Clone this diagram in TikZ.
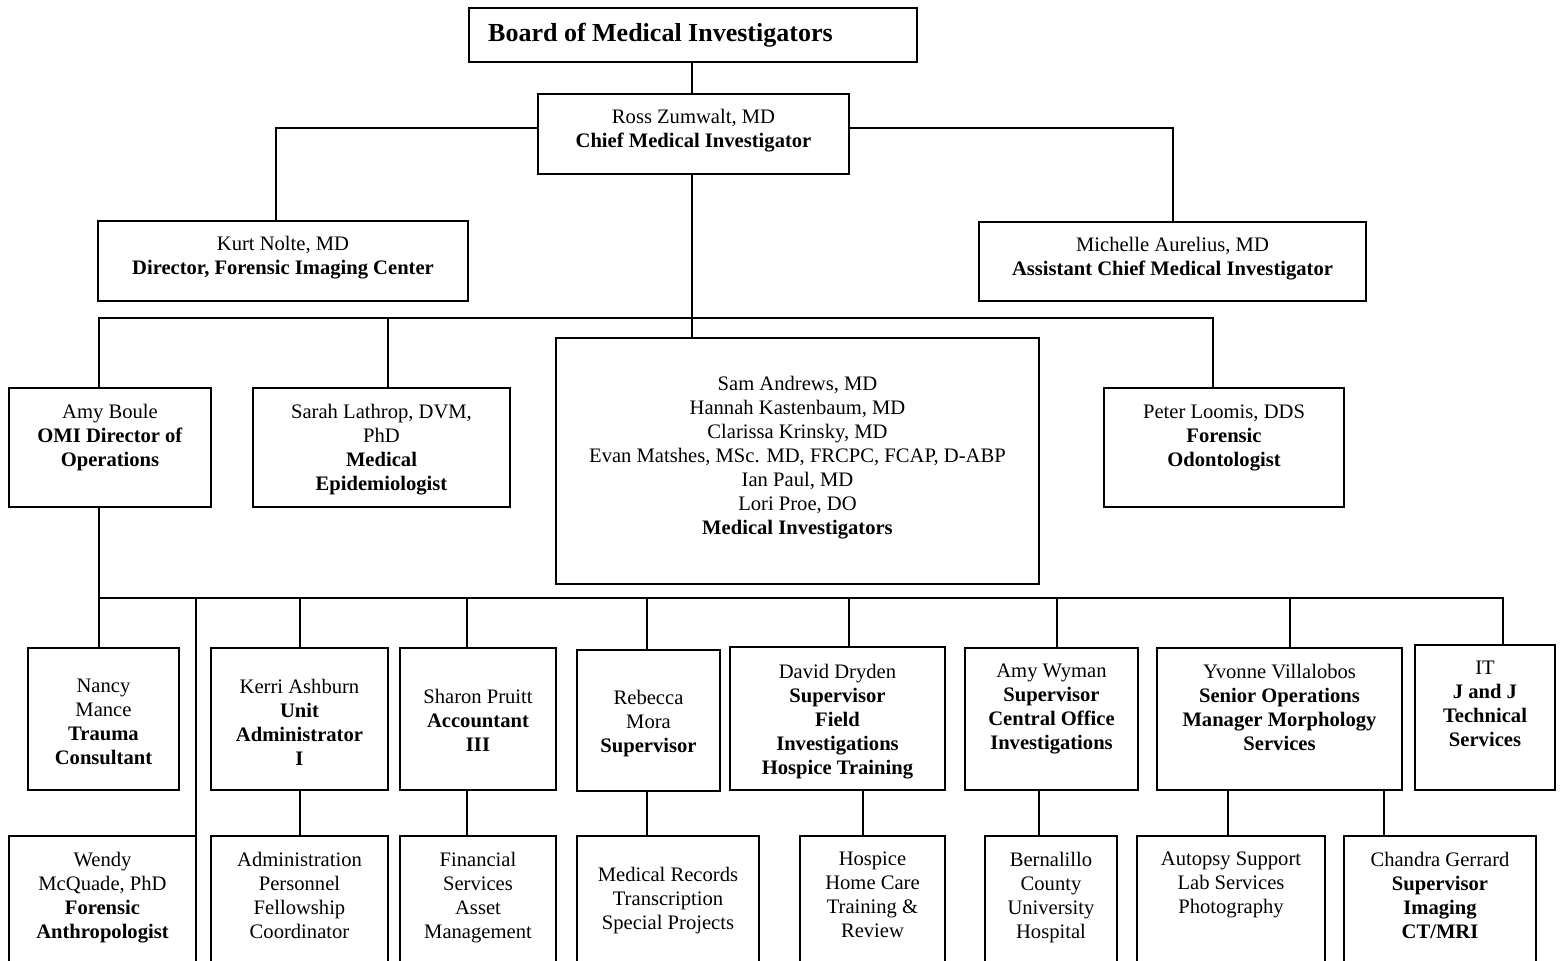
\documentclass[tikz,border=0pt]{standalone}
\usepackage{fontspec}
\setmainfont{Liberation Serif}
\tikzset{
  obox/.style={draw, line width=1.5pt, inner sep=0pt, outer sep=0pt},
  otxt/.style={align=center, inner sep=0pt, font=\fontsize{20.6}{24}\selectfont, anchor=north},
  link/.style={line width=1.5pt},
}
% name, x1, y1, x2, y2, centre of first text line, text
\newcommand\OrgBox[7]{%
  \node[obox, minimum width={#4-#2}, minimum height={#5-#3}] (#1) at ({(#2+#4)/2},{(#3+#5)/2}) {};
  \node[otxt] (#1t) at ({(#2+#4)/2},{#6-7.5}) {#7};}
\begin{document}
\begin{tikzpicture}[x=1pt,y=-1pt]
\useasboundingbox (0,0) rectangle (1561,961);
\clip (0,0) rectangle (1561,961);

% Board
\node[obox, minimum width=448, minimum height=54] (board) at (693,35) {};
\node[anchor=west, inner sep=0pt, font=\fontsize{26}{30}\selectfont\bfseries] (boardt) at (488,35) {Board of Medical Investigators};

\OrgBox{chief}{538}{94}{849}{174}{117}{Ross Zumwalt, MD\\\textbf{Chief Medical Investigator}}
\OrgBox{kurt}{98}{221}{468}{301}{244}{Kurt Nolte, MD\\\textbf{Director, Forensic Imaging Center}}
\OrgBox{michelle}{979}{222}{1366}{301}{245}{Michelle Aurelius, MD\\\textbf{Assistant Chief Medical Investigator}}

\OrgBox{amy}{9}{388}{211}{507}{412}{Amy Boule\\\textbf{OMI Director of}\\\textbf{Operations}}
\OrgBox{sarah}{253}{388}{510}{507}{412}{Sarah Lathrop, DVM,\\PhD\\\textbf{Medical}\\\textbf{Epidemiologist}}
\OrgBox{mi}{556}{338}{1039}{584}{384}{Sam Andrews, MD\\Hannah Kastenbaum, MD\\Clarissa Krinsky, MD\\Evan Matshes, MSc. MD, FRCPC, FCAP, D-ABP\\Ian Paul, MD\\Lori Proe, DO\\\textbf{Medical Investigators}}
\OrgBox{peter}{1104}{388}{1344}{507}{412}{Peter Loomis, DDS\\\textbf{Forensic}\\\textbf{Odontologist}}

\OrgBox{nancy}{28}{648}{179}{790}{686}{Nancy\\Mance\\\textbf{Trauma}\\\textbf{Consultant}}
\OrgBox{kerri}{211}{648}{388}{790}{686}{Kerri Ashburn\\\textbf{Unit}\\\textbf{Administrator}\\\textbf{I}}
\OrgBox{sharon}{400}{648}{556}{790}{696}{Sharon Pruitt\\\textbf{Accountant}\\\textbf{III}}
\OrgBox{rebecca}{577}{650}{720}{791}{697}{Rebecca\\Mora\\\textbf{Supervisor}}
\OrgBox{david}{730}{647}{945}{790}{671}{David Dryden\\\textbf{Supervisor}\\\textbf{Field}\\\textbf{Investigations}\\\textbf{Hospice Training}}
\OrgBox{wyman}{965}{648}{1138}{790}{671}{Amy Wyman\\\textbf{Supervisor}\\\textbf{Central Office}\\\textbf{Investigations}}
\OrgBox{yvonne}{1157}{648}{1402}{790}{671}{Yvonne Villalobos\\\textbf{Senior Operations}\\\textbf{Manager Morphology}\\\textbf{Services}}
\OrgBox{it}{1415}{645}{1555}{790}{668}{IT\\\textbf{J and J}\\\textbf{Technical}\\\textbf{Services}}

\OrgBox{wendy}{9}{836}{196}{975}{859}{Wendy\\McQuade, PhD\\\textbf{Forensic}\\\textbf{Anthropologist}}
\OrgBox{admin}{211}{836}{388}{975}{859}{Administration\\Personnel\\Fellowship\\Coordinator}
\OrgBox{fin}{400}{836}{556}{975}{859}{Financial\\Services\\Asset\\Management}
\OrgBox{medrec}{577}{836}{759}{975}{874}{Medical Records\\Transcription\\Special Projects}
\OrgBox{hospice}{800}{836}{945}{975}{859}{Hospice\\Home Care\\Training \&\\Review}
\OrgBox{bern}{985}{836}{1117}{975}{859}{Bernalillo\\County\\University\\Hospital}
\OrgBox{autopsy}{1137}{836}{1325}{975}{859}{Autopsy Support\\Lab Services\\Photography}
\OrgBox{chandra}{1344}{836}{1536}{975}{859}{Chandra Gerrard\\\textbf{Supervisor}\\\textbf{Imaging}\\\textbf{CT/MRI}}

% bus coordinates
\coordinate (hub1) at (692,318);
\coordinate (busA) at (99,318);
\coordinate (busB) at (1213,318);
\coordinate (xSarah) at (388,0);
\coordinate (busC) at (99,598);
\coordinate (busD) at (1503,598);
\coordinate (xKerri) at (300,0);
\coordinate (xSharon) at (467,0);
\coordinate (xRebecca) at (647,0);
\coordinate (xDavid) at (849,0);
\coordinate (xHospice) at (863,0);
\coordinate (xWyman) at (1057,0);
\coordinate (xBern) at (1039,0);
\coordinate (xYvonne) at (1290,0);
\coordinate (xAutopsy) at (1228,0);
\coordinate (xChandra) at (1384,0);
\coordinate (xWendy) at (196,0);
\coordinate (xMichelle) at (1173,0);

% connectors
\draw[link] (hub1 |- board.south) -- (hub1 |- chief.north);
\draw[link] ([yshift=6pt]chief.west) -| ([xshift=-7pt]kurt.north);
\draw[link] ([yshift=6pt]chief.east) -| (xMichelle |- michelle.north);
\draw[link] (hub1 |- chief.south) -- (hub1 |- mi.north);
\draw[link] (busA |- amy.north) -- (busA) -- (busB) -- (busB |- peter.north);
\draw[link] (xSarah |- busA) -- (xSarah |- sarah.north);

\draw[link] (busC |- amy.south) -- (busC |- nancy.north);
\draw[link] (busC) -- (busD) -- (busD |- it.north);
\draw[link] (xWendy |- busC) -- (xWendy |- wendy.north);
\draw[link] (xKerri |- busC) -- (xKerri |- kerri.north);
\draw[link] (xSharon |- busC) -- (xSharon |- sharon.north);
\draw[link] (xRebecca |- busC) -- (xRebecca |- rebecca.north);
\draw[link] (xDavid |- busC) -- (xDavid |- david.north);
\draw[link] (xWyman |- busC) -- (xWyman |- wyman.north);
\draw[link] (xYvonne |- busC) -- (xYvonne |- yvonne.north);

\draw[link] (xKerri |- kerri.south) -- (xKerri |- admin.north);
\draw[link] (xSharon |- sharon.south) -- (xSharon |- fin.north);
\draw[link] (xRebecca |- rebecca.south) -- (xRebecca |- medrec.north);
\draw[link] (xHospice |- david.south) -- (xHospice |- hospice.north);
\draw[link] (xBern |- wyman.south) -- (xBern |- bern.north);
\draw[link] (xAutopsy |- yvonne.south) -- (xAutopsy |- autopsy.north);
\draw[link] (xChandra |- yvonne.south) -- (xChandra |- chandra.north);
\end{tikzpicture}
\end{document}
